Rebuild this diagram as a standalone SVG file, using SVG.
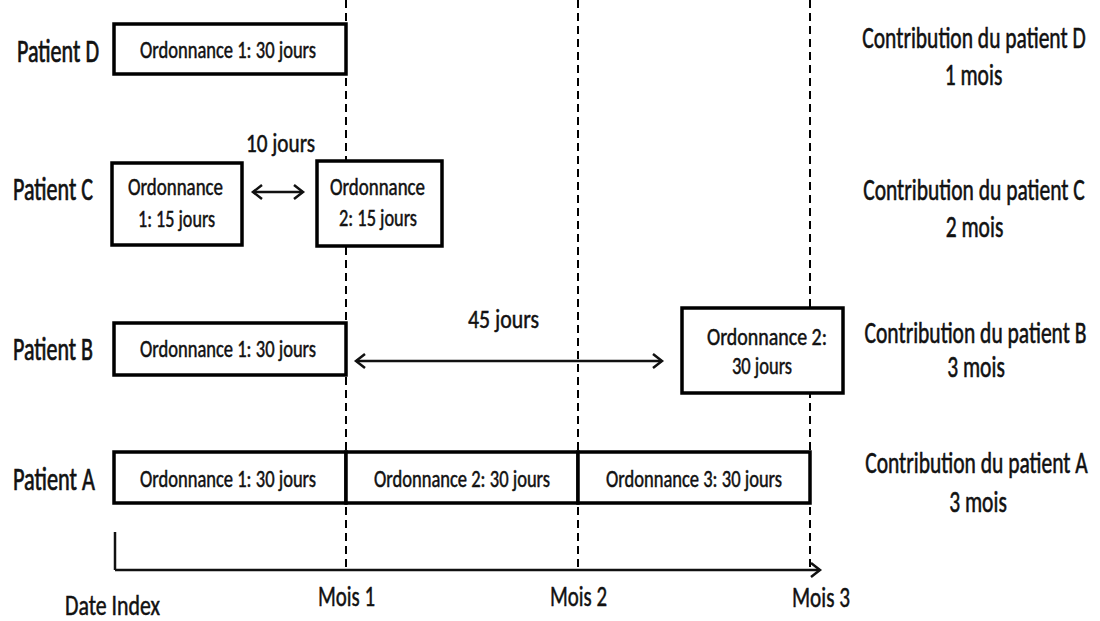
<svg xmlns="http://www.w3.org/2000/svg" width="1100" height="621" viewBox="0 0 1100 621">
<style>
text{font-family:Carlito,"Liberation Sans",sans-serif;fill:#111;stroke:#111;stroke-width:0.5}
.lbl{font-size:32px;stroke-width:0.7}
.box{fill:#fff;stroke:#000;stroke-width:3.5}
.bt{font-size:24px}
.days{font-size:27px}
.ax{font-size:29px}
.con{font-size:21.5px;text-anchor:middle;stroke-width:0.4}
.dash{stroke:#000;stroke-width:2;stroke-dasharray:8 5;fill:none}
.arr{stroke:#111;stroke-width:2.5;fill:none}
</style>
<defs>
<marker id="chev" markerUnits="userSpaceOnUse" markerWidth="14" markerHeight="18" refX="11" refY="8" orient="auto-start-reverse">
<path d="M2,1 L11,8 L2,15" fill="none" stroke="#111" stroke-width="2.5"/>
</marker>
</defs>
<rect width="1100" height="621" fill="#fff"/>
<g id="connectors">
<line class="dash" x1="346" y1="0" x2="346" y2="570"/>
<line class="dash" x1="578" y1="0" x2="578" y2="570"/>
<line class="dash" x1="810" y1="0" x2="810" y2="570"/>
<line class="arr" x1="115" y1="532" x2="115" y2="570"/>
<line class="arr" x1="115" y1="570" x2="820" y2="570" marker-end="url(#chev)"/>
<line class="arr" x1="253" y1="192" x2="303" y2="192" marker-start="url(#chev)" marker-end="url(#chev)"/>
<line class="arr" x1="356" y1="361" x2="662" y2="361" marker-start="url(#chev)" marker-end="url(#chev)"/>
</g>
<g id="patientD">
<text class="lbl" x="17" y="62" textLength="82" lengthAdjust="spacingAndGlyphs">Patient D</text>
<rect class="box" x="114" y="24" width="232" height="50"/>
<text class="bt" x="140" y="58" textLength="176" lengthAdjust="spacingAndGlyphs">Ordonnance 1: 30 jours</text>
</g>
<g id="patientC">
<text class="lbl" x="13" y="200" textLength="80" lengthAdjust="spacingAndGlyphs">Patient C</text>
<rect class="box" x="112" y="163" width="130" height="82"/>
<text class="bt" x="128" y="195" textLength="95" lengthAdjust="spacingAndGlyphs">Ordonnance</text>
<text class="bt" x="138" y="227" textLength="77" lengthAdjust="spacingAndGlyphs">1: 15 jours</text>
<rect class="box" x="317" y="161" width="125" height="85"/>
<text class="bt" x="330" y="195" textLength="95" lengthAdjust="spacingAndGlyphs">Ordonnance</text>
<text class="bt" x="339" y="226" textLength="78" lengthAdjust="spacingAndGlyphs">2: 15 jours</text>
<text class="days" x="246" y="152" textLength="69" lengthAdjust="spacingAndGlyphs">10 jours</text>
</g>
<g id="patientB">
<text class="lbl" x="13" y="360" textLength="80" lengthAdjust="spacingAndGlyphs">Patient B</text>
<rect class="box" x="114" y="323" width="232" height="52"/>
<text class="bt" x="140" y="357" textLength="176" lengthAdjust="spacingAndGlyphs">Ordonnance 1: 30 jours</text>
<rect class="box" x="682" y="308" width="161" height="85"/>
<text class="bt" x="707" y="345" textLength="120" lengthAdjust="spacingAndGlyphs">Ordonnance 2:</text>
<text class="bt" x="732" y="374" textLength="60" lengthAdjust="spacingAndGlyphs">30 jours</text>
<text class="days" x="468" y="328" textLength="71" lengthAdjust="spacingAndGlyphs">45 jours</text>
</g>
<g id="patientA">
<text class="lbl" x="13" y="490" textLength="82" lengthAdjust="spacingAndGlyphs">Patient A</text>
<rect class="box" x="114" y="452" width="232" height="51"/>
<rect class="box" x="346" y="452" width="232" height="51"/>
<rect class="box" x="578" y="452" width="232" height="51"/>
<text class="bt" x="140" y="487" textLength="176" lengthAdjust="spacingAndGlyphs">Ordonnance 1: 30 jours</text>
<text class="bt" x="374" y="487" textLength="176" lengthAdjust="spacingAndGlyphs">Ordonnance 2: 30 jours</text>
<text class="bt" x="606" y="487" textLength="176" lengthAdjust="spacingAndGlyphs">Ordonnance 3: 30 jours</text>
</g>
<g id="contributions">
<text class="con" transform="translate(974,48) scale(1,1.42)">Contribution du patient D</text>
<text class="con" transform="translate(973.5,85) scale(1,1.42)">1 mois</text>
<text class="con" transform="translate(974,200) scale(1,1.42)">Contribution du patient C</text>
<text class="con" transform="translate(974.5,237) scale(1,1.42)">2 mois</text>
<text class="con" transform="translate(975.5,343) scale(1,1.42)">Contribution du patient B</text>
<text class="con" transform="translate(976,377) scale(1,1.42)">3 mois</text>
<text class="con" transform="translate(976.5,473) scale(1,1.42)">Contribution du patient A</text>
<text class="con" transform="translate(978,512) scale(1,1.42)">3 mois</text>
</g>
<g id="axis-labels">
<text class="ax" x="65" y="615" textLength="95" lengthAdjust="spacingAndGlyphs">Date Index</text>
<text class="ax" x="318" y="606" textLength="57" lengthAdjust="spacingAndGlyphs">Mois 1</text>
<text class="ax" x="550" y="606" textLength="57" lengthAdjust="spacingAndGlyphs">Mois 2</text>
<text class="ax" x="792" y="607" textLength="58" lengthAdjust="spacingAndGlyphs">Mois 3</text>
</g>
</svg>
